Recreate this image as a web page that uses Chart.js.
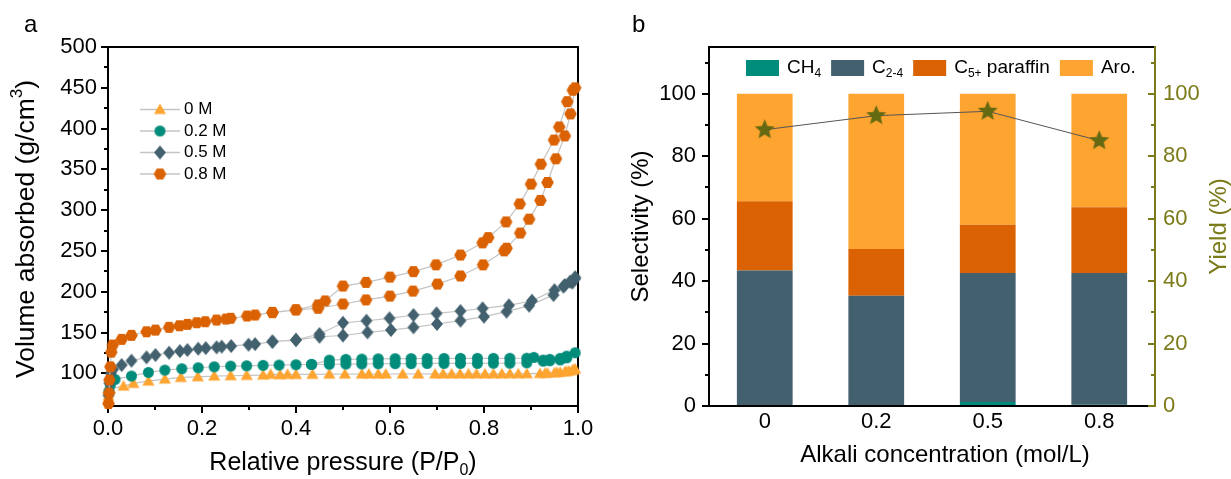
<!DOCTYPE html>
<html>
<head>
<meta charset="utf-8">
<script src="https://cdn.jsdelivr.net/npm/chart.js@4.4.1/dist/chart.umd.min.js"></script>
<style>
  body { margin: 0; background: #fff; }
  #wrap { position: relative; width: 1231px; height: 479px; }
  canvas { position: absolute; top: 0; }
  #isotherm { left: 0; }
  #product { left: 615px; }
</style>
</head>
<body>
<div id="wrap">
  <canvas id="isotherm" width="615" height="479"></canvas>
  <canvas id="product" width="616" height="479"></canvas>
</div>
<script>
// ---- N2 isotherms (P/P0, uptake): adsorption branch, then desorption branch ----
const p0Ads = [0.001, 0.004, 0.033, 0.054, 0.086, 0.121, 0.155, 0.191, 0.226, 0.261, 0.295, 0.330, 0.366, 0.400, 0.435, 0.471, 0.504, 0.540, 0.575, 0.627, 0.660, 0.696, 0.731, 0.767, 0.802, 0.838, 0.873, 0.919, 0.935, 0.950, 0.962, 0.972, 0.981, 0.988, 0.994];
const v0Ads = [72, 81, 84.4, 87.7, 90.5, 93.0, 95.0, 95.8, 96.7, 97.1, 97.5, 97.9, 98.3, 98.6, 98.8, 99.0, 99.1, 99.2, 99.2, 99.2, 99.2, 99.2, 99.3, 99.3, 99.3, 99.4, 99.5, 99.8, 100.3, 100.8, 101.4, 102.0, 102.8, 103.6, 105.5];
const p0Des = [0.990, 0.976, 0.955, 0.930, 0.891, 0.855, 0.820, 0.784, 0.749, 0.713, 0.591, 0.555, 0.382, 0.346];
const v0Des = [104.5, 102.5, 101.2, 100.2, 99.6, 99.5, 99.4, 99.4, 99.3, 99.3, 99.2, 99.2, 98.8, 98.8];

const p02Ads = [0.002, 0.005, 0.015, 0.050, 0.086, 0.121, 0.157, 0.192, 0.226, 0.261, 0.295, 0.330, 0.364, 0.400, 0.433, 0.471, 0.506, 0.540, 0.575, 0.611, 0.645, 0.679, 0.715, 0.750, 0.786, 0.820, 0.855, 0.891, 0.926, 0.940, 0.962, 0.976, 0.994];
const v02Ads = [78, 86, 92.6, 96.7, 101.2, 104.0, 105.7, 106.9, 108.1, 108.9, 109.3, 109.8, 110.2, 110.6, 111.0, 111.2, 111.4, 111.6, 111.8, 112.0, 112.0, 112.2, 112.2, 112.3, 112.3, 112.4, 112.5, 113.0, 115.0, 115.5, 116.5, 119.0, 125.3];
const p02Des = [0.976, 0.962, 0.940, 0.926, 0.906, 0.891, 0.855, 0.820, 0.786, 0.750, 0.715, 0.679, 0.645, 0.611, 0.575, 0.540, 0.506, 0.471, 0.433];
const v02Des = [121.2, 118.4, 117.2, 116.3, 119.6, 118.6, 118.5, 118.4, 118.4, 118.4, 118.3, 118.2, 118.1, 118.0, 117.8, 117.5, 117.2, 116.3, 111.0];

const p05Ads = [0.001, 0.003, 0.006, 0.011, 0.029, 0.050, 0.082, 0.101, 0.130, 0.153, 0.192, 0.231, 0.262, 0.299, 0.350, 0.400, 0.450, 0.500, 0.552, 0.602, 0.650, 0.700, 0.750, 0.800, 0.848, 0.896, 0.948, 0.969, 0.988, 0.994];
const v05Ads = [73, 88, 100, 104.9, 110.2, 115.5, 119.6, 122.5, 125.3, 127.3, 130.2, 131.9, 133.5, 135.1, 138.8, 140.8, 144.9, 146.4, 150.3, 153.1, 156.4, 160.5, 164.6, 169.5, 175.6, 183.0, 196.0, 206.3, 211.2, 216.0];
const p05Des = [0.994, 0.983, 0.972, 0.950, 0.902, 0.853, 0.797, 0.750, 0.699, 0.650, 0.599, 0.550, 0.500, 0.450, 0.400, 0.350, 0.313, 0.242, 0.208, 0.169];
const v05Des = [217.8, 212.4, 208.3, 202.0, 189.0, 183.4, 179.7, 176.4, 173.6, 171.5, 167.5, 164.5, 162.0, 148.2, 141.2, 139.0, 135.9, 132.7, 131.0, 128.6];

const p08Ads = [0.001, 0.002, 0.003, 0.005, 0.007, 0.010, 0.029, 0.050, 0.082, 0.101, 0.130, 0.152, 0.189, 0.231, 0.251, 0.296, 0.350, 0.400, 0.447, 0.500, 0.549, 0.600, 0.649, 0.701, 0.750, 0.798, 0.843, 0.848, 0.877, 0.896, 0.920, 0.935, 0.953, 0.972, 0.984, 0.994];
const v08Ads = [63, 76, 92, 108, 126, 134.7, 141.7, 146.6, 151.0, 153.0, 156.4, 158.4, 162.1, 165.4, 166.6, 170.3, 174.4, 177.7, 179.8, 185.0, 190.0, 194.7, 200.8, 209.4, 219.4, 233.0, 250.2, 253.4, 272.0, 289.0, 312.0, 334.0, 363.0, 391.0, 418.0, 450.0];
const p08Des = [0.989, 0.977, 0.960, 0.949, 0.921, 0.900, 0.876, 0.847, 0.809, 0.797, 0.750, 0.698, 0.650, 0.600, 0.549, 0.500, 0.462, 0.447, 0.400, 0.350, 0.313, 0.261, 0.207, 0.169];
const v08Des = [447, 433, 402, 386, 356.4, 332, 307.7, 285.6, 266.4, 260, 245, 233, 224.7, 218, 211.5, 207, 188.8, 183.9, 178, 174.8, 171.5, 167.5, 163.3, 160.1];

const isoLabels = ['0 M', '0.2 M', '0.5 M', '0.8 M'];
const xTicksA = [0, 0.2, 0.4, 0.6, 0.8, 1.0];
const yTicksA = [100, 150, 200, 250, 300, 350, 400, 450, 500];

// ---- product selectivity (%) and yield (%) vs alkali concentration ----
const alkali = ['0', '0.2', '0.5', '0.8'];
const ch4 = [0.2, 0.1, 1.3, 0.4];
const c24 = [43.2, 35.2, 41.3, 42.2];
const c5p = [22.2, 15.0, 15.5, 21.1];
const aro = [34.4, 49.7, 41.9, 36.3];
const yieldPct = [88.5, 93.0, 94.4, 85.0];
const yTicksB = [0, 20, 40, 60, 80, 100];

const FONT = '"Liberation Sans", Arial, Helvetica, sans-serif';
Chart.defaults.font.family = FONT;
Chart.defaults.color = '#000';

const ORANGE = '#FEA430', RUST = '#DA6203', SLATE = '#42606D', TEAL = '#008C7A';
const OLIVE = '#7a7a18', STAR = '#656912', LINE_GREY = '#c4c4c4';

function zip(px, vy) {
  return px.map((p, i) => ({ x: p, y: vy[i] }));
}

// small filled marker bitmaps, used both as pointStyle and in the legend
function markerImage(kind, color, r) {
  const s = Math.ceil(r * 2 + 2);
  const c = document.createElement('canvas');
  c.width = c.height = s;
  const g = c.getContext('2d');
  const m = s / 2;
  g.fillStyle = color;
  g.beginPath();
  if (kind === 'circle') {
    g.arc(m, m, r, 0, Math.PI * 2);
  } else if (kind === 'tri') {
    for (let i = 0; i < 3; i++) {
      const a = -Math.PI / 2 + i * 2 * Math.PI / 3;
      g.lineTo(m + r * Math.cos(a), m + 1 + r * Math.sin(a));
    }
  } else if (kind === 'diamond') {
    g.moveTo(m, m - r); g.lineTo(m + r * 0.85, m); g.lineTo(m, m + r); g.lineTo(m - r * 0.85, m);
  } else if (kind === 'hex') {
    for (let i = 0; i < 6; i++) {
      const a = i * Math.PI / 3;
      g.lineTo(m + r * Math.cos(a), m + r * Math.sin(a));
    }
  } else {
    for (let i = 0; i < 10; i++) {
      const a = -Math.PI / 2 + i * Math.PI / 5;
      const rr = i % 2 ? r * 0.45 : r;
      g.lineTo(m + rr * Math.cos(a), m + rr * Math.sin(a));
    }
  }
  g.closePath();
  g.fill();
  return c;
}

const triMark = markerImage('tri', ORANGE, 7);
const dotMark = markerImage('circle', TEAL, 5.5);
const diaMark = markerImage('diamond', SLATE, 7);
const hexMark = markerImage('hex', RUST, 6.3);
const starMark = markerImage('star', STAR, 10.5);

// text with sub/superscript runs; returns drawn width
function richText(ctx, parts, x, y, size, opt = {}) {
  ctx.save();
  ctx.translate(x, y);
  if (opt.rotate) ctx.rotate(-Math.PI / 2);
  ctx.fillStyle = opt.color || '#000';
  ctx.textBaseline = 'middle';
  ctx.textAlign = 'left';
  const fontOf = p => ((p.sub || p.sup) ? Math.round(size * 0.65) : size) + 'px ' + FONT;
  let w = 0;
  parts.forEach(p => { ctx.font = fontOf(p); w += ctx.measureText(p.t).width; });
  let cx = opt.align === 'left' ? 0 : -w / 2;
  parts.forEach(p => {
    ctx.font = fontOf(p);
    const dy = p.sub ? size * 0.3 : p.sup ? -size * 0.35 : 0;
    ctx.fillText(p.t, cx, dy);
    cx += ctx.measureText(p.t).width;
  });
  ctx.restore();
  return w;
}

function tickFont(size) {
  return { family: FONT, size: size };
}

// ---------------- panel a ----------------
const isoMarks = [triMark, dotMark, diaMark, hexMark];
const isoSeries = [
  zip(p0Ads, v0Ads).concat(zip(p0Des, v0Des)),
  zip(p02Ads, v02Ads).concat(zip(p02Des, v02Des)),
  zip(p05Ads, v05Ads).concat(zip(p05Des, v05Des)),
  zip(p08Ads, v08Ads).concat(zip(p08Des, v08Des))
];

const isoFrame = {
  id: 'isoFrame',
  beforeDatasetsDraw(chart) {
    const { ctx, chartArea: a, scales: { x, y } } = chart;
    ctx.save();
    ctx.strokeStyle = '#000';
    ctx.lineWidth = 2;
    ctx.strokeRect(a.left, a.top, a.right - a.left, a.bottom - a.top);
    ctx.beginPath();
    for (let v = 75; v <= 500; v += 25) {
      const py = Math.round(y.getPixelForValue(v));
      const len = v % 50 === 0 ? 7 : 4;
      ctx.moveTo(a.left - len, py); ctx.lineTo(a.left, py);
    }
    for (let i = 0; i <= 10; i++) {
      const px = Math.round(x.getPixelForValue(i / 10));
      const len = i % 2 === 0 ? 7 : 4;
      ctx.moveTo(px, a.bottom); ctx.lineTo(px, a.bottom + len);
    }
    ctx.stroke();
    ctx.restore();
  },
  afterDraw(chart) {
    const { ctx, chartArea: a } = chart;
    // legend: grey line with marker, then label
    const rowY = [109.5, 131, 152.5, 174];
    ctx.save();
    isoLabels.forEach((lab, i) => {
      ctx.strokeStyle = LINE_GREY;
      ctx.lineWidth = 1.5;
      ctx.beginPath(); ctx.moveTo(140, rowY[i]); ctx.lineTo(180, rowY[i]); ctx.stroke();
      const m = isoMarks[i];
      ctx.drawImage(m, 160 - m.width / 2, rowY[i] - m.height / 2);
      richText(ctx, [{ t: lab }], 184, rowY[i], 17, { align: 'left' });
    });
    ctx.restore();
    richText(ctx, [{ t: 'Volume absorbed (g/cm' }, { t: '3', sup: true }, { t: ')' }], 27, 229, 26.5, { rotate: true });
    richText(ctx, [{ t: 'Relative pressure (P/P' }, { t: '0', sub: true }, { t: ')' }], (a.left + a.right) / 2, 463, 25);
    richText(ctx, [{ t: 'a' }], 24, 25, 24, { align: 'left' });
  }
};

new Chart(document.getElementById('isotherm'), {
  type: 'scatter',
  data: {
    datasets: isoSeries.map((pts, i) => ({
      label: isoLabels[i],
      data: pts,
      showLine: true,
      borderColor: LINE_GREY,
      borderWidth: 1.2,
      pointStyle: isoMarks[i],
      pointRadius: 6,
      clip: false,
      order: 3 - i
    }))
  },
  options: {
    responsive: false,
    animation: false,
    devicePixelRatio: 1,
    layout: { padding: { left: 0, top: 47, right: 37, bottom: 0 } },
    plugins: { legend: { display: false }, tooltip: { enabled: false } },
    scales: {
      x: {
        type: 'linear', min: 0, max: 1,
        grid: { display: false, drawTicks: false },
        border: { display: false },
        afterBuildTicks: s => { s.ticks = xTicksA.map(v => ({ value: v })); },
        afterFit: s => { s.height = 73; },
        ticks: { padding: 10, color: '#000', font: tickFont(22), maxRotation: 0, autoSkip: false, callback: v => v.toFixed(1) }
      },
      y: {
        type: 'linear', min: 60, max: 500,
        grid: { display: false, drawTicks: false },
        border: { display: false },
        afterBuildTicks: s => { s.ticks = yTicksA.map(v => ({ value: v })); },
        afterFit: s => { s.width = 108; },
        ticks: { padding: 11, color: '#000', font: tickFont(22), autoSkip: false }
      }
    }
  },
  plugins: [isoFrame]
});

// ---------------- panel b ----------------
const productFrame = {
  id: 'productFrame',
  afterDatasetsDraw(chart) {
    const { ctx, chartArea: a, scales: { y } } = chart;
    ctx.save();
    ctx.lineWidth = 2;
    ctx.strokeStyle = '#000';
    ctx.beginPath();
    ctx.moveTo(a.right, a.top); ctx.lineTo(a.left, a.top); ctx.lineTo(a.left, a.bottom); ctx.lineTo(a.right, a.bottom);
    for (let v = 0; v <= 110; v += 10) {
      const py = Math.round(y.getPixelForValue(v));
      const len = v % 20 === 0 ? 7 : 4;
      ctx.moveTo(a.left - len, py); ctx.lineTo(a.left, py);
    }
    ctx.stroke();
    ctx.strokeStyle = OLIVE;
    ctx.beginPath();
    ctx.moveTo(a.right, a.top - 1); ctx.lineTo(a.right, a.bottom + 1);
    for (let v = 0; v <= 110; v += 10) {
      const py = Math.round(y.getPixelForValue(v));
      const len = v % 20 === 0 ? 7 : 4;
      ctx.moveTo(a.right - len, py); ctx.lineTo(a.right, py);
    }
    ctx.stroke();
    ctx.restore();
  },
  afterDraw(chart) {
    const { ctx, chartArea: a } = chart;
    const items = [
      { parts: [{ t: 'CH' }, { t: '4', sub: true }], color: TEAL },
      { parts: [{ t: 'C' }, { t: '2-4', sub: true }], color: SLATE },
      { parts: [{ t: 'C' }, { t: '5+', sub: true }, { t: ' paraffin' }], color: RUST },
      { parts: [{ t: 'Aro.' }], color: ORANGE }
    ];
    let x = 131;
    items.forEach(it => {
      ctx.fillStyle = it.color;
      ctx.fillRect(x, 60, 33, 16);
      x += 41;
      x += richText(ctx, it.parts, x, 68, 19, { align: 'left' }) + 10;
    });
    const mid = (a.top + a.bottom) / 2;
    richText(ctx, [{ t: 'Selectivity (%)' }], 26, mid, 24, { rotate: true });
    richText(ctx, [{ t: 'Yield (%)' }], 604, mid, 24, { rotate: true, color: OLIVE });
    richText(ctx, [{ t: 'Alkali concentration (mol/L)' }], 330, 455, 24);
    richText(ctx, [{ t: 'b' }], 17, 25, 24, { align: 'left' });
  }
};

const barBase = { type: 'bar', yAxisID: 'y', categoryPercentage: 1, barPercentage: 0.5, borderWidth: 0, order: 1 };

new Chart(document.getElementById('product'), {
  data: {
    labels: alkali,
    datasets: [
      { ...barBase, label: 'CH4', data: ch4, backgroundColor: TEAL },
      { ...barBase, label: 'C2-4', data: c24, backgroundColor: SLATE },
      { ...barBase, label: 'C5+ paraffin', data: c5p, backgroundColor: RUST },
      { ...barBase, label: 'Aro.', data: aro, backgroundColor: ORANGE },
      {
        type: 'line', label: 'Yield', data: yieldPct, yAxisID: 'y1',
        borderColor: '#555', borderWidth: 1, pointStyle: starMark, pointRadius: 10, order: 0
      }
    ]
  },
  options: {
    responsive: false,
    animation: false,
    devicePixelRatio: 1,
    layout: { padding: { left: 0, top: 47, right: 0, bottom: 0 } },
    plugins: { legend: { display: false }, tooltip: { enabled: false } },
    scales: {
      x: {
        stacked: true,
        grid: { display: false, drawTicks: false },
        border: { display: false },
        afterFit: s => { s.height = 73; },
        ticks: { padding: 3, color: '#000', font: tickFont(22), maxRotation: 0 }
      },
      y: {
        stacked: true, min: 0, max: 115,
        grid: { display: false, drawTicks: false },
        border: { display: false },
        afterBuildTicks: s => { s.ticks = yTicksB.map(v => ({ value: v })); },
        afterFit: s => { s.width = 94; },
        ticks: { padding: 13, color: '#000', font: tickFont(22), autoSkip: false }
      },
      y1: {
        position: 'right', min: 0, max: 115,
        grid: { display: false, drawTicks: false },
        border: { display: false },
        afterBuildTicks: s => { s.ticks = yTicksB.map(v => ({ value: v })); },
        afterFit: s => { s.width = 76; },
        ticks: { padding: 8, color: OLIVE, font: tickFont(22), autoSkip: false }
      }
    }
  },
  plugins: [productFrame]
});
</script>
</body>
</html>
